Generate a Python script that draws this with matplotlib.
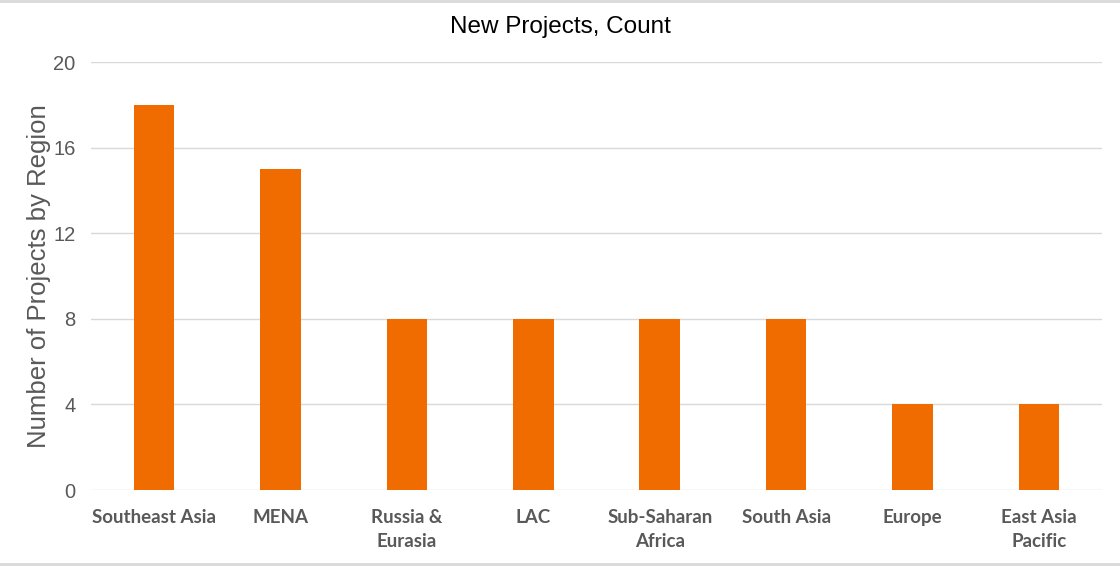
import matplotlib
matplotlib.use("Agg")
import matplotlib.pyplot as plt
import numpy as np

regions = ["Southeast Asia", "MENA", "Russia &\nEurasia", "LAC",
           "Sub-Saharan\nAfrica", "South Asia", "Europe", "East Asia\nPacific"]
counts = [18, 15, 8, 8, 8, 8, 4, 4]
yticks = [0, 4, 8, 12, 16, 20]

fig = plt.figure(figsize=(11.2, 5.66), dpi=100)
ax = fig.add_axes([91 / 1120, 1 - 490 / 566, (1102 - 91) / 1120, 428 / 566])

x = np.arange(len(regions))
ax.bar(x, counts, width=0.32, color="#F06C00", zorder=3)

ax.set_xlim(-0.5, len(regions) - 0.5)
ax.set_ylim(0, 20)
ax.set_yticks(yticks)
ax.set_yticklabels([str(t) for t in yticks], fontsize=14.5, color="#595959",
                   family="Liberation Sans")
ax.set_xticks(x)
ax.set_xticklabels(regions, fontsize=13.5, fontweight="bold", color="#595959",
                   family="Lato", linespacing=1.5)
ax.tick_params(axis="both", length=0)
ax.tick_params(axis="y", pad=11)
ax.tick_params(axis="x", pad=14)
ax.grid(axis="y", color="#D9D9D9", linewidth=1, zorder=0)
for s in ax.spines.values():
    s.set_visible(False)

ax.set_ylabel("Number of Projects by Region", fontsize=18.5, color="#595959",
              family="Liberation Sans", labelpad=2)
fig.text(0.5, 1 - 27 / 566, "New Projects, Count", ha="center", va="center",
         fontsize=17.5, color="black", family="Liberation Sans")

# light frame lines at top and bottom
fig.add_artist(plt.Line2D([0, 1], [1 - 1 / 566, 1 - 1 / 566], color="#D9D9D9",
                          linewidth=2, transform=fig.transFigure))
fig.add_artist(plt.Line2D([0, 1], [1 - 564 / 566, 1 - 564 / 566], color="#D9D9D9",
                          linewidth=2, transform=fig.transFigure))

fig.savefig("out.png", dpi=100)
